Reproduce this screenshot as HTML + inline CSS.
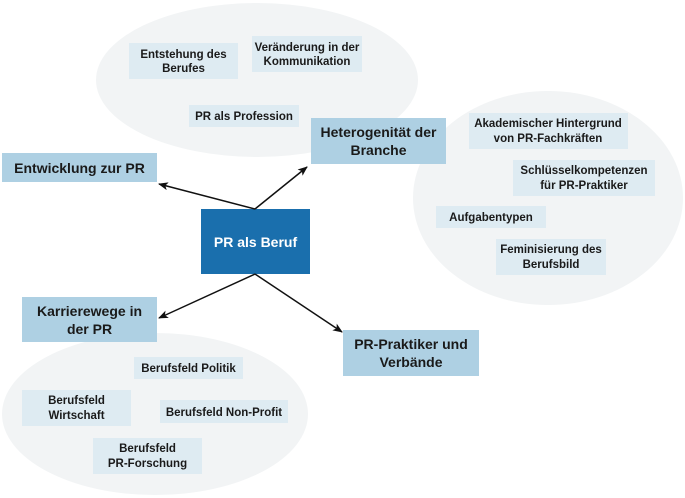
<!DOCTYPE html>
<html><head><meta charset="utf-8"><style>
html,body{margin:0;padding:0;background:#fff;}
svg{display:block;}
text{font-family:"Liberation Sans Narrow","Liberation Sans",sans-serif;font-weight:bold;fill:#1a1a1a;text-anchor:middle;}
.s{font-size:11.5px;}
.m{font-size:14px;}
</style></head><body>
<svg width="685" height="498" viewBox="0 0 685 498" xmlns="http://www.w3.org/2000/svg">
<defs><marker id="a" markerWidth="10" markerHeight="8" refX="9" refY="4" orient="auto" markerUnits="userSpaceOnUse"><path d="M0,0 L10,4 L0,8 L2.5,4 z" fill="#111"/></marker></defs>
<ellipse cx="257" cy="80" rx="161" ry="77" fill="#f2f4f5"/>
<ellipse cx="548" cy="198" rx="135" ry="107" fill="#f2f4f5"/>
<ellipse cx="155" cy="414" rx="153" ry="81" fill="#f2f4f5"/>

<rect x="129" y="43" width="109" height="36" fill="#deebf2"/>
<text class="s" x="183.5" y="58">Entstehung des</text><text class="s" x="183.5" y="72">Berufes</text>
<rect x="252" y="36" width="110" height="36" fill="#deebf2"/>
<text class="s" x="307" y="51">Veränderung in der</text><text class="s" x="307" y="65">Kommunikation</text>
<rect x="189" y="105" width="110" height="22" fill="#deebf2"/>
<text class="s" x="244" y="120">PR als Profession</text>

<rect x="469" y="113" width="159" height="36" fill="#deebf2"/>
<text class="s" x="548" y="127">Akademischer Hintergrund</text><text class="s" x="548" y="142">von PR-Fachkräften</text>
<rect x="513" y="160" width="142" height="36" fill="#deebf2"/>
<text class="s" x="584" y="174">Schlüsselkompetenzen</text><text class="s" x="584" y="189">für PR-Praktiker</text>
<rect x="436" y="206" width="110" height="22" fill="#deebf2"/>
<text class="s" x="491" y="221">Aufgabentypen</text>
<rect x="496" y="239" width="110" height="36" fill="#deebf2"/>
<text class="s" x="551" y="253">Feminisierung des</text><text class="s" x="551" y="268">Berufsbild</text>

<rect x="134" y="357" width="109" height="22" fill="#deebf2"/>
<text class="s" x="188.5" y="372">Berufsfeld Politik</text>
<rect x="22" y="390" width="109" height="36" fill="#deebf2"/>
<text class="s" x="76.5" y="404">Berufsfeld</text><text class="s" x="76.5" y="419">Wirtschaft</text>
<rect x="160" y="400" width="128" height="23" fill="#deebf2"/>
<text class="s" x="224" y="416">Berufsfeld Non-Profit</text>
<rect x="93" y="438" width="109" height="36" fill="#deebf2"/>
<text class="s" x="147.5" y="452">Berufsfeld</text><text class="s" x="147.5" y="467">PR-Forschung</text>

<rect x="311" y="118" width="135" height="46" fill="#aed0e3"/>
<text class="m" x="378.5" y="137">Heterogenität der</text><text class="m" x="378.5" y="155">Branche</text>
<rect x="2" y="153" width="155" height="29" fill="#aed0e3"/>
<text class="m" x="79.5" y="173">Entwicklung zur PR</text>
<rect x="22" y="297" width="135" height="45" fill="#aed0e3"/>
<text class="m" x="89.5" y="316">Karrierewege in</text><text class="m" x="89.5" y="334">der PR</text>
<rect x="343" y="330" width="136" height="46" fill="#aed0e3"/>
<text class="m" x="411" y="349">PR-Praktiker und</text><text class="m" x="411" y="367">Verbände</text>

<rect x="201" y="209" width="109" height="65" fill="#1a6fad"/>
<text class="m" x="255.5" y="247" style="fill:#fff">PR als Beruf</text>

<g stroke="#111" stroke-width="1.5" fill="none">
<line x1="255" y1="209" x2="159" y2="184" marker-end="url(#a)"/>
<line x1="255" y1="209" x2="307" y2="167" marker-end="url(#a)"/>
<line x1="255" y1="274" x2="159" y2="318" marker-end="url(#a)"/>
<line x1="255" y1="274" x2="342" y2="332" marker-end="url(#a)"/>
</g>
</svg>
</body></html>
